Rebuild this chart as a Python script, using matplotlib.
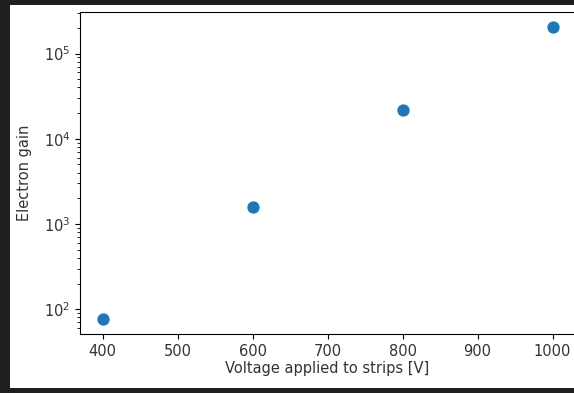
import matplotlib.pyplot as plt
from matplotlib.patches import Rectangle

# voltage on the strips and measured electron gain
voltage = [400, 600, 800, 1000]
gain = [76, 1580, 21700, 207000]

fig = plt.figure(figsize=(5.74, 3.93), dpi=100, facecolor='#1f1f1f')
# white page area of the screenshot
fig.patches.append(Rectangle((10 / 574, 5 / 393), 1.0, 383 / 393,
                             transform=fig.transFigure, facecolor='white',
                             edgecolor='none', zorder=-10))

ax = fig.add_axes([80 / 574, 59 / 393, 495 / 574, 322 / 393])
ax.set_zorder(1)
ax.scatter(voltage, gain, s=62, color='#1f77b4')
ax.set_yscale('log')
ax.spines['right'].set_visible(False)  # cut off in the screenshot
ax.set_xlabel('Voltage applied to strips [V]', fontsize=10.5, color='#333333',
              labelpad=2)
ax.set_ylabel('Electron gain', fontsize=10.5, color='#333333', labelpad=8)
ax.tick_params(labelsize=10.5, labelcolor='#333333')

fig.savefig('out.png', dpi=100, facecolor=fig.get_facecolor())
